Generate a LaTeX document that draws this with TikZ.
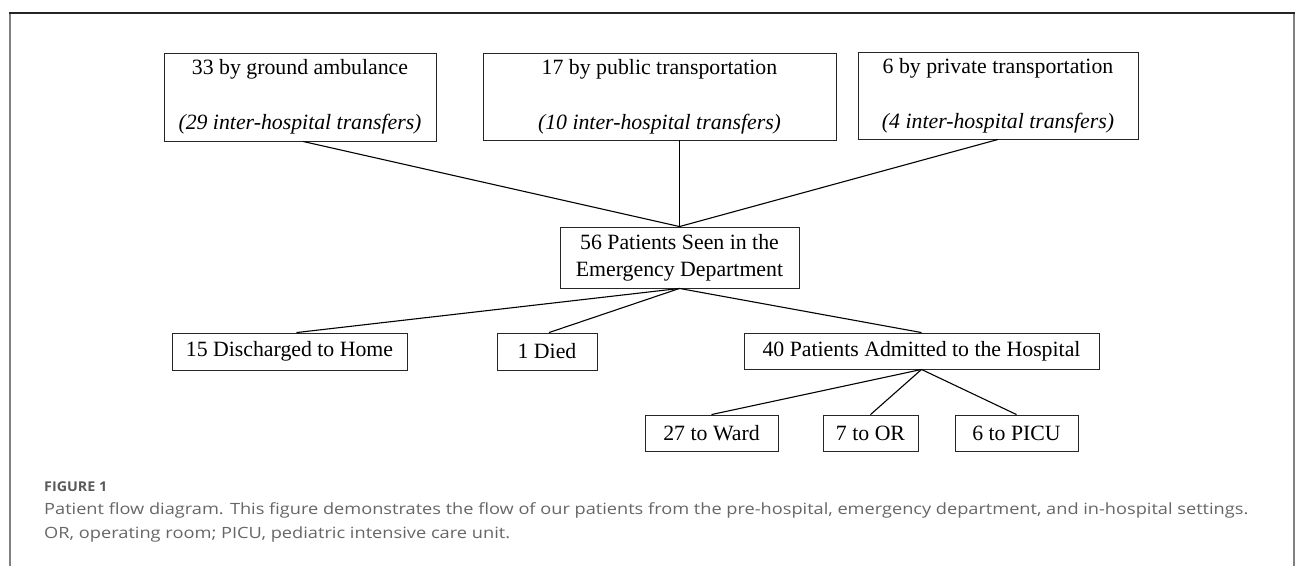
\documentclass[tikz,border=0pt]{standalone}
\usepackage{fontspec}
\setmainfont{Liberation Serif}
\newfontfamily\capfont{Open Sans}
\usetikzlibrary{calc}
\definecolor{capgray}{HTML}{666666}
\definecolor{figgray}{HTML}{5A5A5A}
\begin{document}
\begin{tikzpicture}[x=1pt,y=-1pt,
  box/.style={draw=black!85, line width=0.9pt, inner sep=0pt, align=center,
    font=\fontsize{21.8}{27}\selectfont},
  link/.style={line width=1.1pt, black},
  frame/.style={line width=1.8pt},
  captext/.style={anchor=base west, inner sep=0pt, text=capgray,
    font=\capfont\fontsize{15.5}{18}\selectfont}]
\useasboundingbox (0,0) rectangle (1295,566);
% frame
\draw[frame, black!50] (10,566) -- (10,13);
\draw[frame, black!50] (1294,13) -- (1294,566);
\draw[frame, black!85] (9.1,13) -- (1294.9,13);
% top boxes
\node[box, minimum width=272pt, minimum height=88pt] (b1) at (300,97)
  {33 by ground ambulance\\[28pt]\textit{(29 inter-hospital transfers)}};
\node[box, minimum width=353pt, minimum height=87pt] (b2) at (659.5,96.5)
  {17 by public transportation\\[28pt]\textit{(10 inter-hospital transfers)}};
\node[box, minimum width=280pt, minimum height=87pt] (b3) at (998,95.5)
  {6 by private transportation\\[28pt]\textit{(4 inter-hospital transfers)}};
% ED
\node[box, minimum width=239pt, minimum height=61pt] (ed) at (679.5,257.5)
  {56 Patients Seen in the\\Emergency Department};
% outcomes
\node[box, minimum width=235pt, minimum height=37pt] (dh) at (289.5,351.5) {15 Discharged to Home};
\node[box, minimum width=100pt, minimum height=37pt] (died) at (547,351.5) {1 Died};
\node[box, minimum width=355pt, minimum height=36pt] (adm) at (921.5,351) {40 Patients Admitted to the Hospital};
% admission destinations
\node[box, minimum width=133pt, minimum height=36pt] (ward) at (711.5,433) {27 to Ward};
\node[box, minimum width=95pt, minimum height=36pt] (or) at (870.5,433) {7 to OR};
\node[box, minimum width=123pt, minimum height=36pt] (picu) at (1016.5,433) {6 to PICU};
% connectors
\draw[link] ($(b1.south)+(3,0)$) -- (ed.north);
\draw[link] (b2.south -| ed.north) -- (ed.north);
\draw[link] (b3.south) -- (ed.north);
\draw[link] (ed.south) -- ($(dh.north)+(7,0)$);
\draw[link] (ed.south) -- ($(died.north)+(2,0)$);
\draw[link] (ed.south) -- (adm.north);
\draw[link] (adm.south) -- (ward.north);
\draw[link] (adm.south) -- (or.north);
\draw[link] (adm.south) -- (picu.north);
% caption
\node[anchor=base west, inner sep=0pt, text=figgray,
  font=\capfont\fontsize{13.5}{16}\selectfont\bfseries] (fig) at (44,491)
  {\resizebox{63pt}{\height}{FIGURE 1}};
\node[captext] (cap1) at (44,514)
  {\resizebox{1204pt}{\height}{Patient flow diagram. This figure demonstrates the flow of our patients from the pre-hospital, emergency department, and in-hospital settings.}};
\node[captext] (cap2) at (44,538)
  {\resizebox{466pt}{\height}{OR, operating room; PICU, pediatric intensive care unit.}};
\end{tikzpicture}
\end{document}
